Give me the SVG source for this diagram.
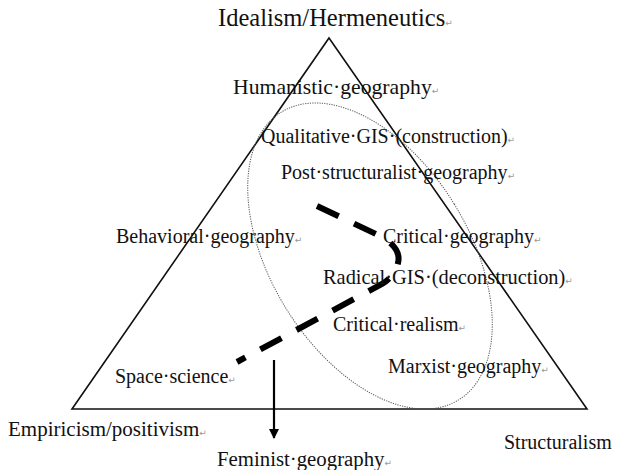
<svg xmlns="http://www.w3.org/2000/svg" width="617" height="470" viewBox="0 0 617 470">
<style>
text{font-family:"Liberation Serif","Times New Roman",serif;font-size:20px;fill:#111}
.h{font-size:24.5px}
.m{font-family:"DejaVu Sans",sans-serif;font-size:9px;fill:#999}
.tri{fill:none;stroke:#111;stroke-width:1.6}
.ell{fill:none;stroke:#555;stroke-width:1;stroke-dasharray:1.2 1.2}
.dash{fill:none;stroke:#000;stroke-width:6;stroke-dasharray:24 17}
.arr{stroke:#000;stroke-width:2.2;fill:none}
</style>
<defs>
<marker id="ah" markerWidth="10" markerHeight="10" refX="9" refY="5" orient="auto" markerUnits="userSpaceOnUse">
<path d="M0,0 L10,5 L0,10 Z" fill="#000"/>
</marker>
</defs>
<g id="triangle"><path class="tri" d="M329,38 L587,409 L72,409 Z"/></g>
<g id="ellipse"><ellipse class="ell" cx="370" cy="256" rx="99" ry="169" transform="rotate(-31.6 370 256)"/></g>
<g id="connectors">
<path class="dash" d="M317,206 L378,235 Q402,247 398,263 Q395,276 382,284 L237,362"/>
<line class="arr" x1="274" y1="360" x2="274" y2="438" marker-end="url(#ah)"/>
</g>
<g id="n-idealism"><text class="h" x="218" y="26">Idealism/Hermeneutics<tspan class="m">↵</tspan></text></g>
<g id="n-humanistic"><text x="233" y="94" style="font-size:21.7px">Humanistic·geography<tspan class="m">↵</tspan></text></g>
<g id="n-qualgis"><text x="261" y="143">Qualitative·GIS·(construction)<tspan class="m">↵</tspan></text></g>
<g id="n-poststruct"><text x="281" y="179">Post·structuralist·geography<tspan class="m">↵</tspan></text></g>
<g id="n-behavioral"><text x="116" y="243">Behavioral·geography<tspan class="m">↵</tspan></text></g>
<g id="n-critgeo"><text x="383" y="243">Critical·geography<tspan class="m">↵</tspan></text></g>
<g id="n-radgis"><text x="323" y="284" style="font-size:20.4px">Radical·GIS·(deconstruction)<tspan class="m">↵</tspan></text></g>
<g id="n-critreal"><text x="333" y="331">Critical·realism<tspan class="m">↵</tspan></text></g>
<g id="n-marxist"><text x="388" y="373">Marxist·geography<tspan class="m">↵</tspan></text></g>
<g id="n-space"><text x="115" y="383">Space·science<tspan class="m">↵</tspan></text></g>
<g id="n-empiricism"><text x="8" y="436" style="font-size:21px">Empiricism/positivism<tspan class="m">↵</tspan></text></g>
<g id="n-structuralism"><text x="504" y="449">Structuralism</text></g>
<g id="n-feminist"><text x="217" y="466" style="font-size:20.8px">Feminist·geography<tspan class="m">↵</tspan></text></g>
</svg>
